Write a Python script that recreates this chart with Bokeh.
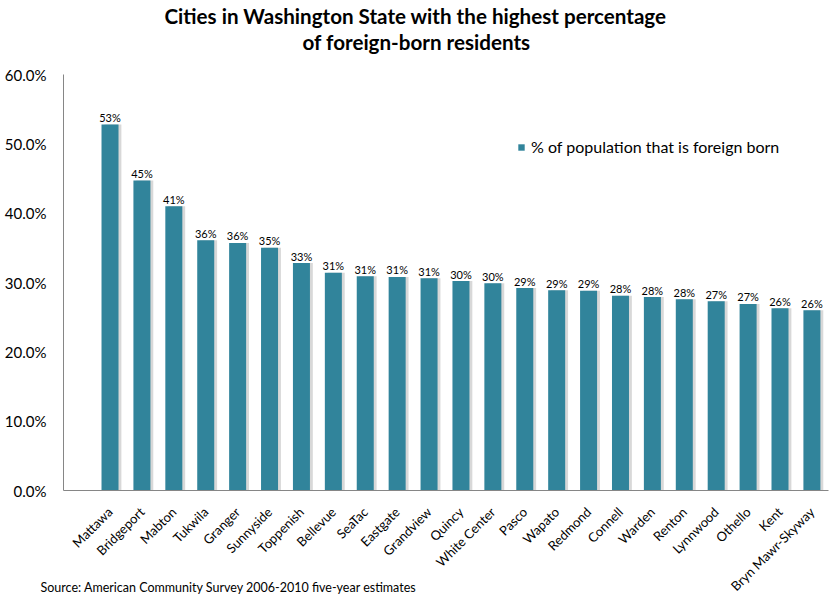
import math
from bokeh.plotting import figure
from bokeh.models import ColumnDataSource, Range1d, FixedTicker, Legend, Title
from bokeh.core.properties import value
from bokeh.embed import file_html
from bokeh.resources import INLINE

cities = ["Mattawa", "Bridgeport", "Mabton", "Tukwila", "Granger", "Sunnyside", "Toppenish",
          "Bellevue", "SeaTac", "Eastgate", "Grandview", "Quincy", "White Center", "Pasco",
          "Wapato", "Redmond", "Connell", "Warden", "Renton", "Lynnwood", "Othello", "Kent",
          "Bryn Mawr-Skyway"]
pct = [52.8, 44.7, 41.0, 36.1, 35.7, 35.0, 32.8, 31.4, 30.9, 30.8, 30.6, 30.2, 29.9, 29.2,
       28.9, 28.8, 28.1, 27.9, 27.6, 27.3, 26.9, 26.3, 26.0]
y_ticks = [0, 10, 20, 30, 40, 50, 60]
series_name = "% of population that is foreign born"
title1 = "Cities in Washington State with the highest percentage"
title2 = "of foreign-born residents"
source_note = "Source: American Community Survey 2006-2010 five-year estimates"

FONT = "Lato"
BAR = "#31849B"

idx = list(range(len(cities)))
src = ColumnDataSource(dict(
    x=idx,
    xs=[i + 0.09 for i in idx],
    y=pct,
    lbl=[f"{round(v)}%" for v in pct],
))

p = figure(width=830, height=602, output_backend="svg", toolbar_location=None, title=None,
           x_range=Range1d(-1.458, 22.52), y_range=Range1d(0, 60),
           min_border_left=63, min_border_right=2, min_border_top=74, min_border_bottom=111)
p.outline_line_color = None
p.xgrid.visible = False
p.ygrid.visible = False

# two title lines: first added sits closest to the frame
p.add_layout(Title(text=title2, align="left", offset=239, standoff=42, text_font=FONT,
                   text_font_size="20.6px", text_font_style="bold", text_color="#000000"), "above")
p.add_layout(Title(text=title1, align="left", offset=101, standoff=-42, text_font=FONT,
                   text_font_size="20.6px", text_font_style="bold", text_color="#000000"), "above")

p.vbar(x="xs", top="y", width=0.533, source=src, fill_color="#d8d8d8", line_color=None)
bars = p.vbar(x="x", top="y", width=0.533, source=src, fill_color=BAR, line_color=None)

p.text(x="x", y="y", text="lbl", source=src, text_align="center", text_baseline="alphabetic",
       y_offset=-7, text_font=value(FONT), text_font_size="11px", text_color="#000000")

p.yaxis.ticker = FixedTicker(ticks=y_ticks)
p.yaxis.major_label_overrides = {t: f"{t:.1f}%" for t in y_ticks}
p.xaxis.ticker = FixedTicker(ticks=idx)
p.xaxis.major_label_overrides = {i: c for i, c in zip(idx, cities)}
p.xaxis.major_label_orientation = math.pi / 4
for ax in (p.xaxis, p.yaxis):
    ax.axis_line_color = "#868686"
    ax.major_tick_line_color = None
    ax.minor_tick_line_color = None
    ax.major_tick_out = 0
    ax.major_tick_in = 0
    ax.major_label_text_font = FONT
    ax.major_label_text_color = "#000000"
p.yaxis.major_label_text_font_size = "15px"
p.yaxis.major_label_standoff = 17
p.xaxis.major_label_text_font_size = "13px"
p.xaxis.major_label_standoff = 19

p.add_layout(Title(text=source_note, align="left", vertical_align="top", offset=-23,
                   standoff=-46, text_font=FONT, text_font_size="12.5px",
                   text_font_style="normal", text_color="#000000"), "below")

legend = Legend(items=[(series_name, [bars])], location=(454, 334), padding=0, margin=0,
                border_line_color=None, background_fill_alpha=0, glyph_width=8, glyph_height=8,
                label_standoff=6, label_text_font=FONT, label_text_font_size="16px",
                label_text_color="#000000")
p.add_layout(legend)

open("out.html", "w").write(file_html(p, INLINE))
